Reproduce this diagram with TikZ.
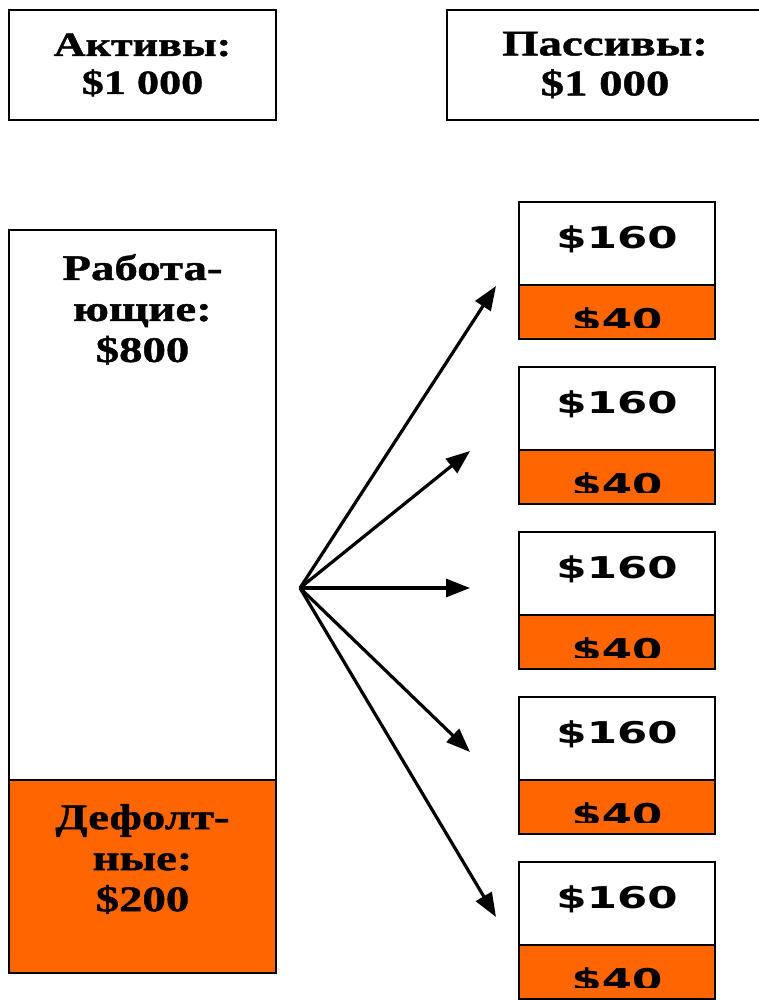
\documentclass[tikz,border=0pt]{standalone}
\usepackage{fontspec}
\setmainfont{Liberation Serif}
\newfontfamily\capfont[FakeStretch=1.3, FakeBold=1.2]{Liberation Serif Bold}
\newfontfamily\sumfont[FakeStretch=1.45]{DejaVu Sans Bold}
\usetikzlibrary{positioning, arrows.meta}
\definecolor{dflt}{RGB}{255,102,0}

\begin{document}
\begin{tikzpicture}[x=1pt, y=-1pt, >={Triangle[length=24pt, width=18pt]},
	box/.style={draw, line width=2.8pt, rectangle, inner sep=0pt, outer sep=0pt, align=center},
	head/.style={box, minimum height=110pt, font=\capfont\fontsize{34}{38}\selectfont},
	label/.style={inner sep=0pt, align=center, anchor=north, font=\capfont\fontsize{36}{41}\selectfont},
	sum/.style={box, minimum width=196pt, text height=22pt, text depth=13pt, font=\sumfont\fontsize{30}{36}\selectfont},
	arr/.style={->, line width=3.2pt}]
	\useasboundingbox (0,0) rectangle (758,1000);

	% balance sheet heads
	\node[head, minimum width=267pt] (assets) at (142.5, 65) {Активы:\\\$1 000};
	\node[head, minimum width=316pt, font=\capfont\fontsize{36}{40}\selectfont] (liabs) at (605, 65) {Пассивы:\\\$1 000};

	% loan pool
	\node[box, minimum width=267pt, minimum height=550pt] (work) at (142.5, 505) {};
	\node[box, minimum width=267pt, minimum height=193pt, fill=dflt] (dflt) at (142.5, 876.5) {};
	\node[label] (worktext) at (142.5, 254) {Работа-\\ющие:\\\$800};
	\node[label] (dflttext) at (142.5, 804) {Дефолт-\\ные:\\\$200};

	% tranches
	\foreach \i [evaluate=\i as \ytop using 202+165*(\i-1)] in {1,...,5} {
		\node[sum, minimum height=83pt] (top\i) at (617, \ytop+41.5) {\$160};
		\node[sum, minimum height=54pt, fill=dflt] (bot\i) at (617, \ytop+110) {};
		\begin{scope}
			\clip (bot\i.north west) rectangle ([yshift=12pt]bot\i.south east);
			\node[inner sep=0pt, anchor=base, font=\sumfont\fontsize{30}{36}\selectfont] (loss\i) at (617, \ytop+128) {\$40};
		\end{scope}
	}

	\coordinate (fan) at (300, 588);
	\coordinate (tip1) at (496, 286);
	\coordinate (tip2) at (470, 451);
	\coordinate (tip3) at (470, 588);
	\coordinate (tip4) at (470, 752);
	\coordinate (tip5) at (496, 917);
	\foreach \i in {1,...,5}
		\draw[arr] (fan) -- (tip\i);
\end{tikzpicture}
\end{document}
